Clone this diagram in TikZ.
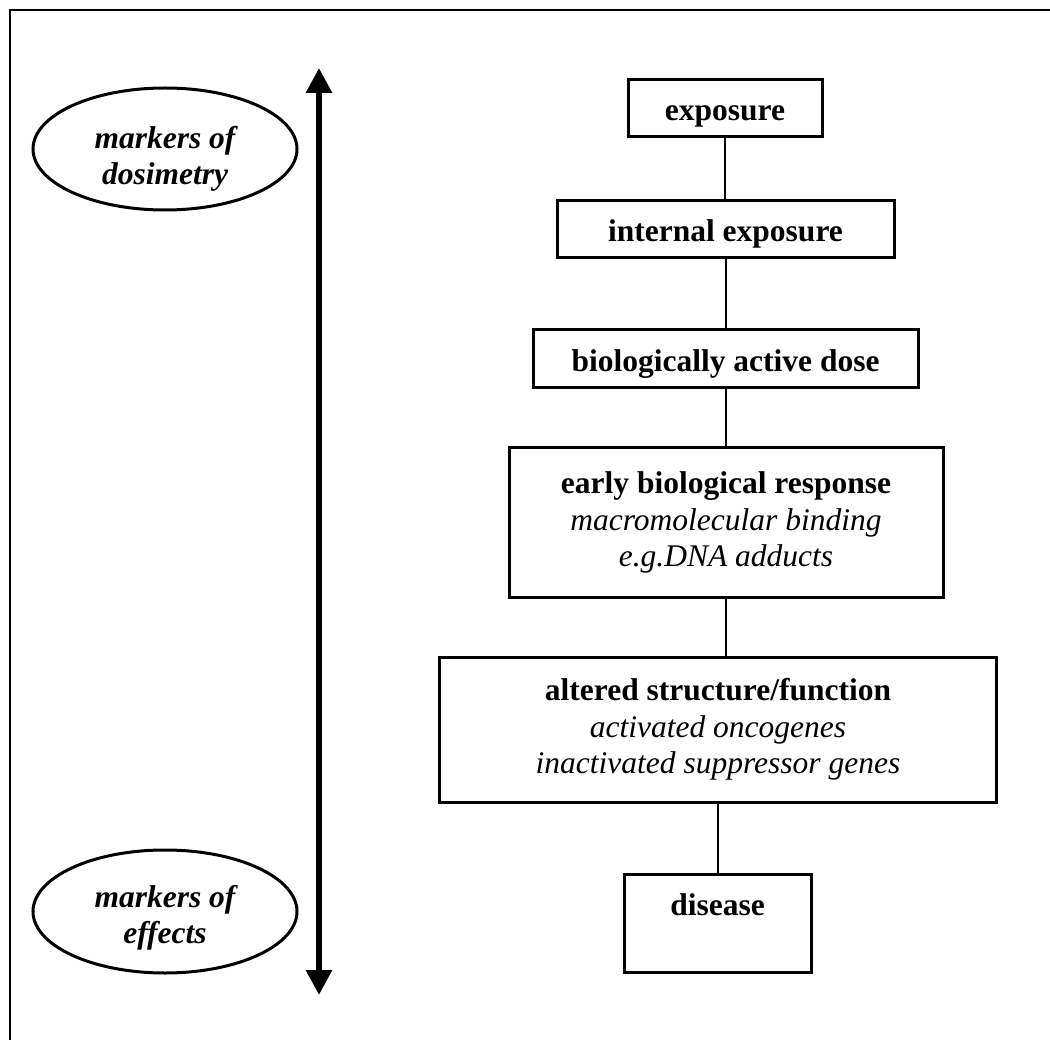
\documentclass[tikz,border=0pt]{standalone}
\usepackage{fontspec}
\setmainfont{Liberation Serif}
\usepackage{tikz}
\usetikzlibrary{arrows.meta,shapes.geometric}

\begin{document}
\begin{tikzpicture}[x=1pt, y=-1pt,
    every node/.style={font=\fontsize{31.5}{36.5}\selectfont, align=center, inner sep=0pt},
    stage/.style={draw, line width=3pt, rectangle},
    oneline/.style={text height=25pt, text depth=0pt},
    link/.style={line width=2pt},
    marker/.style={draw, line width=3pt, ellipse,
      font=\fontsize{31.5}{36.5}\selectfont\bfseries\itshape}]
  \useasboundingbox (0,0) rectangle (1050,1040);

  % frame (runs off the page on the right and at the bottom)
  \draw[line width=2pt] (10,10) rectangle (1080,1080);

  % the chain of stages
  \node[stage, oneline, minimum width=194pt, minimum height=57pt] (expo) at (725,108.5)
    {\bfseries exposure};
  \node[stage, oneline, minimum width=337pt, minimum height=57pt] (intexpo) at (725.5,229.5)
    {\bfseries internal exposure};
  \node[stage, oneline, minimum width=385pt, minimum height=58pt] (dose) at (725.5,359)
    {\bfseries biologically active dose};
  \node[stage, minimum width=434pt, minimum height=149pt] (early) at (726,522.5)
    {\bfseries early biological response\\
     \itshape macromolecular binding\\
     \itshape e.g.DNA adducts};
  \node[stage, minimum width=557pt, minimum height=145pt] (altered) at (718,729.5)
    {\bfseries altered structure/function\\
     \itshape activated oncogenes\\
     \itshape inactivated suppressor genes};
  \node[stage, text height=25pt, text depth=41pt, minimum width=187pt, minimum height=98pt]
    (disease) at (717.5,923) {\bfseries disease};

  \draw[link] (expo) -- (expo |- intexpo.north);
  \draw[link] (intexpo) -- (intexpo |- dose.north);
  \draw[link] (dose) -- (dose |- early.north);
  \draw[link] (early) -- (early |- altered.north);
  \draw[link] (altered) -- (altered |- disease.north);

  % markers along the double arrow
  \node[marker, minimum width=264pt, minimum height=122pt] (dosimetry)
    at (165,149) {\rule{0pt}{41.5pt}markers of\\ dosimetry};
  \node[marker, minimum width=264pt, minimum height=123pt] (effects)
    at (165,911.5) {\rule{0pt}{35pt}markers of\\ effects};

  \coordinate (arrtop) at (319,68);
  \coordinate (arrbot) at (319,995);
  \draw[line width=6pt,
    {Triangle[width=25pt,length=25pt]}-{Triangle[width=25pt,length=25pt]}]
    (arrtop) -- (arrbot);
\end{tikzpicture}
\end{document}
